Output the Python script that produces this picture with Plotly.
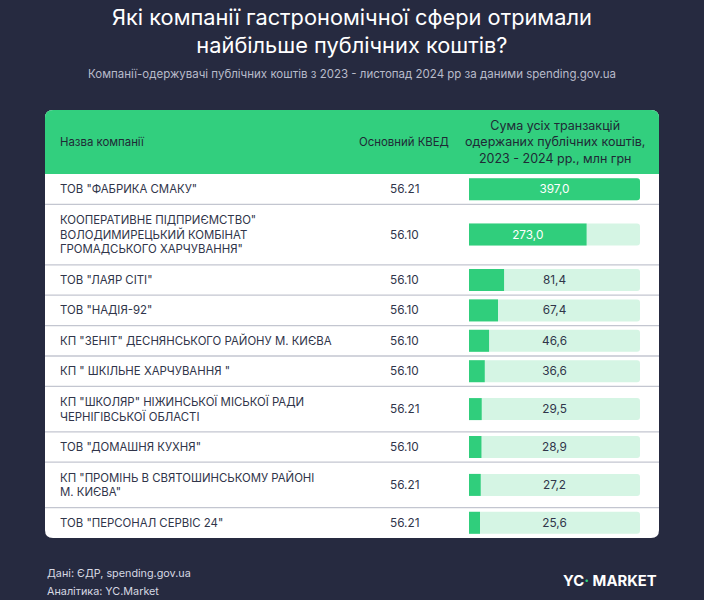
import plotly.graph_objects as go

# --- data -----------------------------------------------------------------
companies = [
    'ТОВ "ФАБРИКА СМАКУ"',
    'КООПЕРАТИВНЕ ПІДПРИЄМСТВО"<br>ВОЛОДИМИРЕЦЬКИЙ КОМБІНАТ<br>ГРОМАДСЬКОГО ХАРЧУВАННЯ"',
    'ТОВ "ЛАЯР СІТІ"',
    'ТОВ "НАДІЯ-92"',
    'КП "ЗЕНІТ" ДЕСНЯНСЬКОГО РАЙОНУ М. КИЄВА',
    'КП " ШКІЛЬНЕ ХАРЧУВАННЯ "',
    'КП "ШКОЛЯР" НІЖИНСЬКОЇ МІСЬКОЇ РАДИ<br>ЧЕРНІГІВСЬКОЇ ОБЛАСТІ',
    'ТОВ "ДОМАШНЯ КУХНЯ"',
    'КП "ПРОМІНЬ В СВЯТОШИНСЬКОМУ РАЙОНІ<br>М. КИЄВА"',
    'ТОВ "ПЕРСОНАЛ СЕРВІС 24"',
]
kved = ["56.21", "56.10", "56.10", "56.10", "56.10", "56.10", "56.21", "56.10", "56.21", "56.21"]
amounts = [397.0, 273.0, 81.4, 67.4, 46.6, 36.6, 29.5, 28.9, 27.2, 25.6]

title = "Які компанії гастрономічної сфери отримали<br>найбільше публічних коштів?"
subtitle = "Компанії-одержувачі публічних коштів з 2023 - листопад 2024 рр за даними spending.gov.ua"
col_headers = ["Назва компанії", "Основний КВЕД",
               "Сума усіх транзакцій<br>одержаних публічних коштів,<br>2023 - 2024 рр., млн грн"]
source_lines = ["Дані: ЄДР, spending.gov.ua", "Аналітика: YC.Market"]

# --- styling --------------------------------------------------------------
W, H = 704, 600
BG = "#262a40"
GREEN = "#30ce7c"
HEADER_GREEN = "#32cf7e"
LIGHT = "#d5f5e4"
TEXT = "#30354a"
RULE = "#c3c6d0"
FONT = "Inter"
FS = 11.4

CARD_L, CARD_R, CARD_T, CARD_B = 45, 659, 110, 538
HEAD_B = 174
BAR_L, BAR_R = 469, 640
LINE_GAP = 14.3


def px(x):
    return x / W


# row layout (heights follow the number of text lines)
n_lines = [c.count("<br>") + 1 for c in companies]
heights = [15 * n + 15.4 for n in n_lines]
bounds = [HEAD_B]
for h in heights:
    bounds.append(bounds[-1] + h)
centers = [(a + b) / 2 for a, b in zip(bounds[:-1], bounds[1:])]

vmax = max(amounts)
labels = [f"{v:.1f}".replace(".", ",") for v in amounts]
inside = [v / vmax > 0.5 for v in amounts]

fig = go.Figure()

# light background track, carries the label when the green bar is short
fig.add_trace(go.Bar(
    y=centers, x=[vmax] * len(amounts), orientation="h", width=22,
    marker=dict(color=LIGHT, cornerradius=3, line=dict(width=0)),
    text=["" if i else l for l, i in zip(labels, inside)],
    textposition="inside", insidetextanchor="middle", textangle=0,
    insidetextfont=dict(family=FONT, size=11.8, color=TEXT),
    hoverinfo="skip",
))
fig.add_trace(go.Bar(
    y=centers, x=amounts, orientation="h", width=22,
    marker=dict(color=GREEN, cornerradius=3, line=dict(width=0)),
    text=[l if i else "" for l, i in zip(labels, inside)],
    textposition="inside", insidetextanchor="middle", textangle=0,
    insidetextfont=dict(family=FONT, size=11.8, color="white"),
    hoverinfo="skip",
))

shapes = []
r = 8
# white card with rounded corners
card = (f"M {px(CARD_L + r)},{CARD_T} L {px(CARD_R - r)},{CARD_T} "
        f"Q {px(CARD_R)},{CARD_T} {px(CARD_R)},{CARD_T + r} "
        f"L {px(CARD_R)},{CARD_B - r} Q {px(CARD_R)},{CARD_B} {px(CARD_R - r)},{CARD_B} "
        f"L {px(CARD_L + r)},{CARD_B} Q {px(CARD_L)},{CARD_B} {px(CARD_L)},{CARD_B - r} "
        f"L {px(CARD_L)},{CARD_T + r} Q {px(CARD_L)},{CARD_T} {px(CARD_L + r)},{CARD_T} Z")
shapes.append(dict(type="path", path=card, xref="paper", yref="y",
                   fillcolor="white", line=dict(width=0), layer="below"))
head = (f"M {px(CARD_L + r)},{CARD_T} L {px(CARD_R - r)},{CARD_T} "
        f"Q {px(CARD_R)},{CARD_T} {px(CARD_R)},{CARD_T + r} "
        f"L {px(CARD_R)},{HEAD_B} L {px(CARD_L)},{HEAD_B} "
        f"L {px(CARD_L)},{CARD_T + r} Q {px(CARD_L)},{CARD_T} {px(CARD_L + r)},{CARD_T} Z")
shapes.append(dict(type="path", path=head, xref="paper", yref="y",
                   fillcolor=HEADER_GREEN, line=dict(width=0), layer="below"))
for b in bounds[1:-1]:
    shapes.append(dict(type="line", xref="paper", yref="y", x0=px(CARD_L), x1=px(CARD_R),
                       y0=b, y1=b, line=dict(color=RULE, width=1.3), layer="below"))

ann = []


def text(x, y, s, size=FS, color=TEXT, anchor="left", **kw):
    ann.append(dict(x=px(x), y=y, xref="paper", yref="y", text=s, showarrow=False,
                    xanchor=anchor, yanchor="middle",
                    font=dict(family=FONT, size=size, color=color), **kw))


text(352, 31, title, size=21.8, color="white", anchor="center")
text(352, 74, subtitle, size=11.5, color="#b8bbca", anchor="center")

text(58, 142, col_headers[0], color="#1f2a36")
text(404, 142, col_headers[1], color="#1f2a36", anchor="center")
text(554.5, 142, col_headers[2], size=12.5, color="#1f2a36", anchor="center")

for c, k, yc in zip(companies, kved, centers):
    parts = c.split("<br>")
    for i, p in enumerate(parts):
        text(58, yc + (i - (len(parts) - 1) / 2) * LINE_GAP, p)
    text(404, yc, k, size=11.8, anchor="center")

text(45, 573, source_lines[0], size=10.8, color="#d6d8e2")
text(45, 591, source_lines[1], size=10.8, color="#d6d8e2")
text(659, 581, "<b>YC<span style='color:#2fd17c'>·</span> MARKET</b>", size=14.8,
     color="white", anchor="right")

fig.update_layout(
    width=W, height=H, margin=dict(l=0, r=0, t=0, b=0),
    paper_bgcolor=BG, plot_bgcolor="rgba(0,0,0,0)",
    barmode="overlay", showlegend=False,
    xaxis=dict(domain=[px(BAR_L), px(BAR_R)], range=[0, vmax], visible=False, fixedrange=True),
    yaxis=dict(domain=[0, 1], range=[H, 0], visible=False, fixedrange=True),
    shapes=shapes, annotations=ann, uniformtext=dict(minsize=11, mode="show"),
)

# the page's default 8px body margin would shift the figure, so drop it
fig.write_html("out.html", config=dict(displayModeBar=False),
               post_script="document.body.style.margin='0';document.body.style.overflow='hidden';")
